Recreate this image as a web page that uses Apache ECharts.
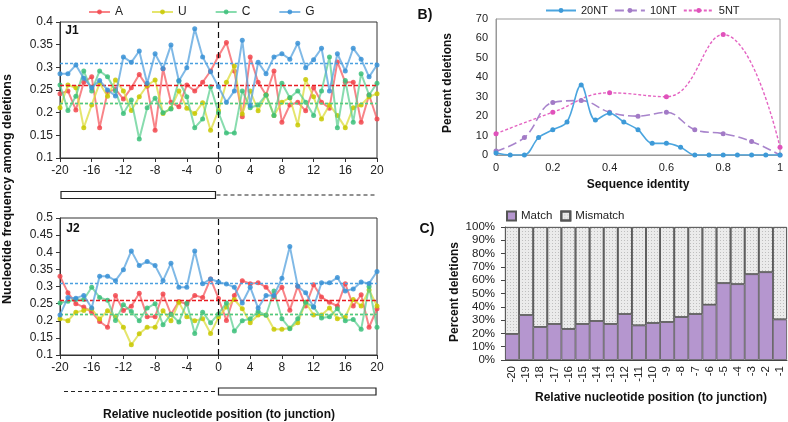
<!DOCTYPE html>
<html><head><meta charset="utf-8">
<script src="https://cdn.jsdelivr.net/npm/echarts@6/dist/echarts.min.js"></script>
<style>html,body{margin:0;padding:0;background:#fff}#c{width:788px;height:422px}</style>
</head><body><div id="c"></div>
<script>
// ---------- DATA ----------
const xPos = [-20,-19,-18,-17,-16,-15,-14,-13,-12,-11,-10,-9,-8,-7,-6,-5,-4,-3,-2,-1,0,1,2,3,4,5,6,7,8,9,10,11,12,13,14,15,16,17,18,19,20];
const nucNames = ['A','U','C','G'];
// J1 panel
const j1A = [0.242,0.248,0.206,0.267,0.279,0.167,0.245,0.252,0.230,0.255,0.284,0.258,0.161,0.297,0.223,0.213,0.261,0.248,0.267,0.292,0.325,0.355,0.292,0.191,0.323,0.267,0.239,0.292,0.179,0.217,0.223,0.204,0.255,0.223,0.210,0.312,0.267,0.267,0.179,0.239,0.186];
const j1U = [0.211,0.261,0.255,0.167,0.217,0.265,0.236,0.272,0.248,0.205,0.235,0.260,0.272,0.198,0.210,0.248,0.210,0.198,0.222,0.161,0.205,0.267,0.303,0.197,0.248,0.204,0.239,0.194,0.223,0.233,0.173,0.273,0.235,0.186,0.217,0.194,0.167,0.211,0.217,0.235,0.242];
const j1C = [0.261,0.205,0.236,0.292,0.248,0.292,0.279,0.248,0.198,0.228,0.142,0.211,0.232,0.200,0.208,0.271,0.235,0.167,0.186,0.257,0.200,0.155,0.155,0.248,0.211,0.217,0.239,0.194,0.265,0.233,0.248,0.223,0.194,0.248,0.323,0.167,0.271,0.179,0.286,0.239,0.265];
const j1G = [0.286,0.286,0.305,0.276,0.255,0.271,0.250,0.237,0.323,0.311,0.336,0.265,0.330,0.297,0.349,0.270,0.299,0.385,0.323,0.290,0.257,0.223,0.248,0.360,0.216,0.311,0.286,0.323,0.330,0.318,0.353,0.299,0.317,0.342,0.248,0.330,0.292,0.342,0.318,0.279,0.305];
const j1Mean = [0.256,0.216,0.222,0.309];
// J2 panel
const j2A = [0.330,0.282,0.250,0.240,0.225,0.198,0.181,0.274,0.230,0.242,0.280,0.212,0.212,0.278,0.219,0.256,0.249,0.274,0.268,0.322,0.265,0.201,0.274,0.317,0.308,0.311,0.298,0.269,0.298,0.231,0.301,0.243,0.305,0.269,0.254,0.243,0.308,0.243,0.276,0.181,0.235];
const j2U = [0.206,0.200,0.225,0.230,0.235,0.205,0.229,0.212,0.181,0.130,0.162,0.181,0.181,0.229,0.200,0.254,0.212,0.200,0.206,0.163,0.210,0.240,0.262,0.235,0.194,0.217,0.217,0.175,0.175,0.179,0.194,0.254,0.217,0.217,0.237,0.206,0.211,0.262,0.243,0.290,0.243];
const j2C = [0.252,0.257,0.262,0.262,0.298,0.268,0.260,0.201,0.247,0.227,0.200,0.237,0.250,0.188,0.219,0.196,0.252,0.163,0.225,0.194,0.220,0.252,0.170,0.200,0.206,0.227,0.216,0.287,0.206,0.177,0.206,0.254,0.240,0.208,0.212,0.235,0.200,0.204,0.175,0.300,0.181];
const j2G = [0.217,0.268,0.266,0.274,0.237,0.330,0.330,0.317,0.349,0.404,0.361,0.373,0.361,0.317,0.368,0.298,0.298,0.404,0.308,0.322,0.313,0.307,0.298,0.252,0.298,0.237,0.274,0.274,0.324,0.417,0.301,0.282,0.240,0.311,0.311,0.326,0.287,0.293,0.313,0.309,0.344];
const j2Mean = [0.256,0.217,0.224,0.312];
// Panel B
const idX20 = [0,0.05,0.1,0.15,0.2,0.25,0.3,0.35,0.4,0.45,0.5,0.55,0.6,0.65,0.7,0.75,0.8,0.85,0.9,0.95,1];
const nt20 = [1,0,0,9,13,17,36,18,21.5,17,13,6,6,4,0,0,0,0,0,0,0];
const idX10 = [0,0.1,0.2,0.3,0.4,0.5,0.6,0.7,0.8,0.9,1];
const nt10 = [2,9,27,28,22,20,22,13,11,7,0];
const idX5 = [0,0.2,0.4,0.6,0.8,1];
const nt5 = [11,22,32,30,62,4];
// Panel C
const posC = ['-20','-19','-18','-17','-16','-15','-14','-13','-12','-11','-10','-9','-8','-7','-6','-5','-4','-3','-2','-1'];
const matchPct = [19.5,33.75,24.75,27,23.25,27,29.25,27,34.5,26,27.75,28.5,32.25,34.5,41.5,57.75,57,64.5,66,30.5];
const mismatchPct = [80.5,66.25,75.25,73,76.75,73,70.75,73,65.5,74,72.25,71.5,67.75,65.5,58.5,42.25,43,35.5,34,69.5];

// ---------- STYLE ----------
const FONT = '"Liberation Sans", Arial, sans-serif';
const lineCol = ['rgba(245,85,90,0.72)','rgba(220,220,60,0.75)','rgba(85,205,140,0.7)','rgba(85,162,222,0.75)'];
const dotCol = ['#f2474d','#c8c800','#3cbf7a','#3a92d6'];
const meanCol = ['#e81c22','#d4d444','#4cc98a','#4aa0e0'];
const meanDash = [[4,2],[3,2],[3,2],[3,2]];

function pairs(xs, ys){ return xs.map((x,i)=>[x, ys[i]]); }

const chart = echarts.init(document.getElementById('c'), null, {renderer:'canvas'});

function jSeries(gi, arrs, means){
  return arrs.map((arr,k)=>{
    const mlData = [{yAxis: means[k], lineStyle:{color: meanCol[k], type: meanDash[k], width:1.4}}];
    if (k===3) mlData.push({xAxis:0, lineStyle:{color:'#111', type:[6,4], width:1.2}});
    return {
      name: nucNames[k], type:'line', xAxisIndex: gi, yAxisIndex: gi,
      data: pairs(xPos, arr), symbol:'circle', symbolSize:5,
      lineStyle:{color: lineCol[k], width:2},
      itemStyle:{color: dotCol[k], opacity:0.85},
      emphasis:{disabled:true}, z: 2+k,
      markLine:{silent:true, symbol:'none', label:{show:false}, animation:false, data: mlData}
    };
  });
}

const axLabel = {fontSize:12, color:'#222', fontFamily:FONT};
function jX(gi){ return {type:'value', gridIndex:gi, min:-20, max:20, interval:4,
  axisLine:{onZero:false, lineStyle:{color:'#333'}}, axisTick:{length:4, lineStyle:{color:'#333'}},
  axisLabel:Object.assign({margin:7}, axLabel), splitLine:{show:false}}; }
function jY(gi, max){ return {type:'value', gridIndex:gi, min:0.1, max:max, interval:0.05,
  axisLine:{show:true, onZero:false, lineStyle:{color:'#333'}}, axisTick:{show:true, length:4, lineStyle:{color:'#333'}},
  axisLabel:Object.assign({margin:7}, axLabel), splitLine:{show:false}}; }

const option = {
  animation:false,
  textStyle:{fontFamily:FONT},
  legend:[
    {data:nucNames, left:83, top:1, itemWidth:21, itemHeight:6, itemGap:28,
     textStyle:{fontSize:12, color:'#222'}},
    {data:['20NT','10NT','5NT'], left:540, top:0, itemWidth:30, itemHeight:6, itemGap:6,
     textStyle:{fontSize:11, color:'#222'}},
    {data:['Match','Mismatch'], left:501, top:205, itemWidth:9, itemHeight:9, itemGap:8, icon:'rect',
     textStyle:{fontSize:11.5, color:'#222'}}
  ],
  grid:[
    {left:60, top:22, width:317, height:136, show:true, borderColor:'#333', borderWidth:1},
    {left:60, top:218, width:317, height:137, show:true, borderColor:'#333', borderWidth:1},
    {left:496, top:19, width:284, height:136, show:true, borderColor:'#999', borderWidth:1},
    {left:505, top:227, width:282, height:133, show:false}
  ],
  xAxis:[
    jX(0), jX(1),
    {type:'value', gridIndex:2, min:0, max:1, interval:0.2,
     axisLine:{onZero:false, lineStyle:{color:'#999'}}, axisTick:{show:false},
     axisLabel:{fontSize:11, color:'#222', margin:7}, splitLine:{show:false}},
    {type:'category', gridIndex:3, data:posC, boundaryGap:true,
     axisLine:{lineStyle:{color:'#444'}}, axisTick:{length:4, lineStyle:{color:'#444'}},
     axisLabel:{fontSize:11.5, color:'#222', rotate:90, margin:6, interval:0}}
  ],
  yAxis:[
    jY(0, 0.4), jY(1, 0.5),
    {type:'value', gridIndex:2, min:0, max:70, interval:10,
     axisLine:{show:true, onZero:false, lineStyle:{color:'#999'}}, axisTick:{show:false},
     axisLabel:{fontSize:11, color:'#222', margin:8}, splitLine:{show:false}},
    {type:'value', gridIndex:3, min:0, max:100, interval:10,
     axisLine:{show:true, onZero:false, lineStyle:{color:'#444'}}, axisTick:{show:true, length:4, lineStyle:{color:'#444'}},
     axisLabel:{fontSize:11.5, color:'#222', margin:10, formatter:'{value}%'}, splitLine:{show:false}}
  ],
  series:[
    ...jSeries(0, [j1A,j1U,j1C,j1G], j1Mean),
    ...jSeries(1, [j2A,j2U,j2C,j2G], j2Mean),
    {name:'20NT', type:'line', xAxisIndex:2, yAxisIndex:2, data:pairs(idX20, nt20), smooth:0.35,
     symbol:'circle', symbolSize:5, lineStyle:{color:'#4ba5df', width:1.6}, itemStyle:{color:'#3d9ad8'}, z:5},
    {name:'10NT', type:'line', xAxisIndex:2, yAxisIndex:2, data:pairs(idX10, nt10), smooth:0.4,
     symbol:'circle', symbolSize:5, lineStyle:{color:'#a884cc', width:1.6, type:[9,4]}, itemStyle:{color:'#a27ac6'}, z:4},
    {name:'5NT', type:'line', xAxisIndex:2, yAxisIndex:2, data:pairs(idX5, nt5), smooth:0.45,
     symbol:'circle', symbolSize:5, lineStyle:{color:'#e463c2', width:1.4, type:[3,2]}, itemStyle:{color:'#e052bb'}, z:3},
    {name:'Match', type:'bar', xAxisIndex:3, yAxisIndex:3, stack:'c', data:matchPct, barCategoryGap:'0%',
     itemStyle:{color:'#b596cf', borderColor:'#555', borderWidth:0.8}},
    {name:'Mismatch', type:'bar', xAxisIndex:3, yAxisIndex:3, stack:'c', data:mismatchPct, barCategoryGap:'0%',
     itemStyle:{color:'#ebebeb', borderColor:'#555', borderWidth:0.8,
       decal:{symbol:'rect', symbolSize:1, dashArrayX:[1,2], dashArrayY:[1,2], color:'rgba(110,110,110,0.35)'}}}
  ]
};
chart.setOption(option);

// ---------- annotations & titles ----------
const pL1 = chart.convertToPixel({gridIndex:0}, [-20, 0.1]);
const p01 = chart.convertToPixel({gridIndex:0}, [0, 0.1]);
const pR1 = chart.convertToPixel({gridIndex:0}, [20, 0.1]);
const pL2 = chart.convertToPixel({gridIndex:1}, [-20, 0.1]);
const p02 = chart.convertToPixel({gridIndex:1}, [0, 0.1]);
const pR2 = chart.convertToPixel({gridIndex:1}, [20, 0.1]);

function txt(x,y,text,size,bold,rot){
  return {type:'text', x:x, y:y, rotation:rot||0, silent:true,
    style:{text:text, fontSize:size, fontWeight:bold?'bold':'normal', fontFamily:FONT, fill:'#111',
      textAlign:'center', textVerticalAlign:'middle'}};
}
const g = [
  {type:'rect', shape:{x:pL1[0]+1, y:191.5, width:p01[0]-pL1[0]-4, height:7}, style:{fill:'#fff', stroke:'#222', lineWidth:1.2}},
  {type:'line', shape:{x1:p01[0]-2, y1:195, x2:pR1[0], y2:195}, style:{stroke:'#222', lineWidth:1, lineDash:[4,3]}},
  {type:'line', shape:{x1:pL2[0]+4, y1:391.5, x2:p02[0]-1, y2:391.5}, style:{stroke:'#222', lineWidth:1, lineDash:[4,3]}},
  {type:'rect', shape:{x:p02[0], y:388, width:pR2[0]-p02[0]-1, height:7}, style:{fill:'#fff', stroke:'#222', lineWidth:1.2}},
  txt(72,31,'J1',12,true), txt(73,229,'J2',12,true),
  txt(425,15,'B)',14,true), txt(427,229,'C)',14,true),
  txt(219,415,'Relative nucleotide position (to junction)',12,true),
  txt(8,189,'Nucleotide frequency among deletions',12.5,true,Math.PI/2),
  txt(638,185,'Sequence identity',12,true),
  txt(448,83,'Percent deletions',12,true,Math.PI/2),
  txt(651,398,'Relative nucleotide position (to junction)',12,true),
  txt(455,292,'Percent deletions',12,true,Math.PI/2)
];
chart.setOption({graphic:g});
</script></body></html>
